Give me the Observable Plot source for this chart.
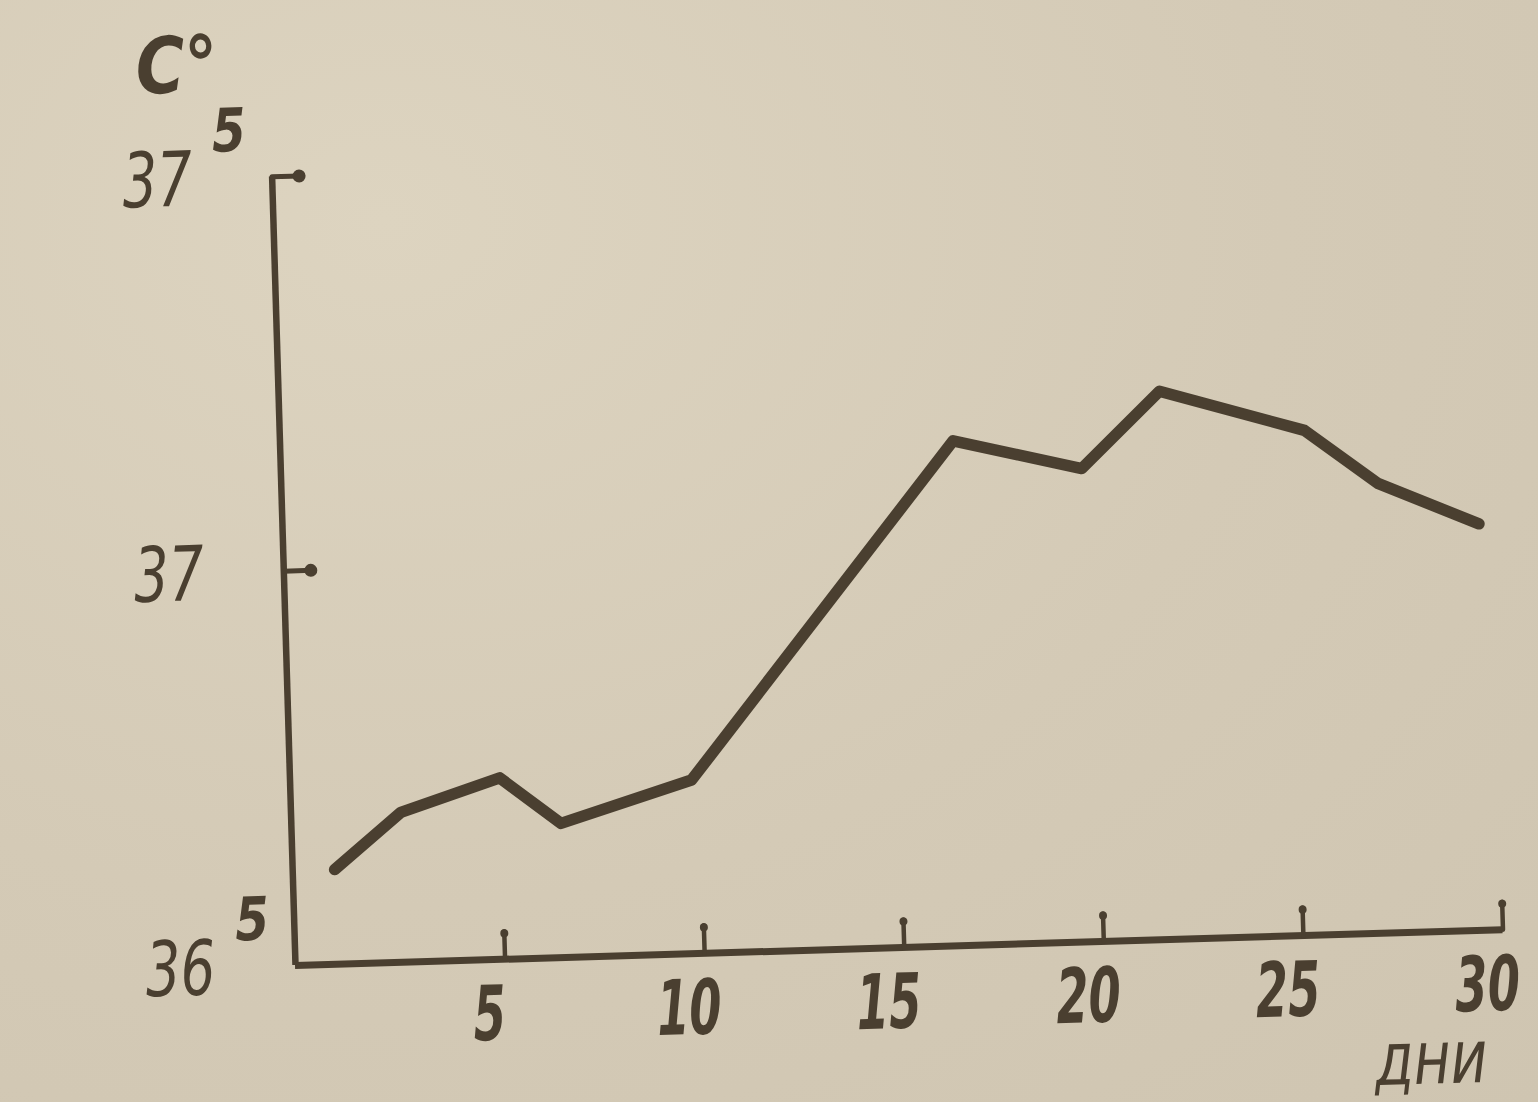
<!DOCTYPE html>
<html>
<head>
<meta charset="utf-8">
<script src="https://cdn.jsdelivr.net/npm/d3@7"></script>
<script src="https://cdn.jsdelivr.net/npm/@observablehq/plot@0.6"></script>
<style>
  html, body { margin: 0; padding: 0; width: 1538px; height: 1102px; overflow: hidden;
    background: radial-gradient(ellipse at 25% 20%, #ddd4c0 0%, #d4cab6 55%, #cfc5b1 100%); }
  #chart { position: absolute; left: 0; top: 0; }
  #chart svg { overflow: visible; transform: rotate(-1.7deg); transform-origin: 295px 965px; }
</style>
</head>
<body>
<div id="chart"></div>
<script>
// ---- data ----
const days  = [0.8, 2.5, 5, 6.5, 9.8, 16.6, 19.8, 21.8, 25.4, 27.2, 29.7];
const temps = [36.62, 36.69, 36.73, 36.67, 36.72, 37.14, 37.10, 37.195, 37.14, 37.07, 37.015];
const xDomain = [-0.25, 30];
const yDomain = [36.5, 37.5];
const xTicks = [5, 10, 15, 20, 25, 30];
const xTickLabels = ["5", "10", "15", "20", "25", "30"];
const yTicks = [36.5, 37, 37.5];
const yTickLabels = ["36", "37", "37"];
const yTickSups = ["5", "", "5"];
const yTickMarks = [37, 37.5];
const yTitle = "C°";
const xTitle = "дни";
const xTitleAt = 28.1;

const ink = "#4a3f30";
const font = "'Liberation Sans Narrow', 'DejaVu Sans Condensed', sans-serif";

const series = days.map((d, i) => ({day: d, t: temps[i]}));
const yLab = yTicks.map((v, i) => ({v, main: yTickLabels[i], sup: yTickSups[i]}));
const xLab = xTicks.map((v, i) => ({v, label: xTickLabels[i]}));

const tickShape = { draw(ctx, l) { ctx.moveTo(0, 0); ctx.lineTo(0, -l); } };

const chart = Plot.plot({
  width: 1538,
  height: 1102,
  marginLeft: 295,
  marginRight: 35,
  marginTop: 176,
  marginBottom: 137,
  style: {background: "transparent", color: ink},
  x: {domain: xDomain, axis: null},
  y: {domain: yDomain, axis: null},
  marks: [
    // axes
    Plot.ruleY([yDomain[0]], {x1: xDomain[0], x2: xDomain[1], stroke: ink, strokeWidth: 7}),
    Plot.ruleX([xDomain[0]], {y1: yDomain[0], y2: yDomain[1], stroke: ink, strokeWidth: 6.5}),
    // x ticks (upward)
    Plot.vector(xTicks, {x: d => d, y: yDomain[0], length: 28, rotate: 0, anchor: "start",
      shape: tickShape, stroke: ink, strokeWidth: 4.5}),
    Plot.dot(xTicks, {x: d => d, y: yDomain[0], dy: -26, r: 4, fill: ink}),
    // y ticks (rightward)
    Plot.vector(yTickMarks, {x: xDomain[0], y: d => d, length: 28, rotate: 90, anchor: "start",
      shape: tickShape, stroke: ink, strokeWidth: 5}),
    Plot.dot(yTickMarks, {x: xDomain[0], y: d => d, dx: 27, r: 6.5, fill: ink}),
    // data line
    Plot.line(series, {x: "day", y: "t", stroke: ink, strokeWidth: 11.5,
      strokeLinejoin: "round", strokeLinecap: "round"}),
    // x tick labels
    Plot.text(xLab, {x: "v", y: yDomain[0], text: "label", dx: -17, dy: 56,
      fontSize: 76, fontStyle: "italic", fontWeight: "bold", fontFamily: font, fill: ink}),
    // y tick labels
    Plot.text(yLab, {x: xDomain[0], y: "v", text: "main", dx: -115, dy: 2,
      fontSize: 76, fontStyle: "italic", fontFamily: font, fill: ink}),
    Plot.text(yLab, {x: xDomain[0], y: "v", text: "sup", dx: -42, dy: -46,
      fontSize: 60, fontStyle: "italic", fontWeight: "bold", fontFamily: font, fill: ink}),
    // axis titles
    Plot.text([yTitle], {x: xDomain[0], y: yDomain[1], text: d => d, dx: -92, dy: -112,
      fontSize: 78, fontStyle: "italic", fontWeight: "bold", fontFamily: font, fill: ink}),
    Plot.text([xTitle], {x: xTitleAt, y: yDomain[0], text: d => d, dy: 128,
      fontSize: 74, fontStyle: "italic", fontFamily: font, fill: ink})
  ]
});
document.getElementById("chart").appendChild(chart);

// condense the glyphs horizontally, like the narrow hand-lettered type of the original
const squeeze = [0.68, 0.8, 0.9, 0.95, 0.85];
d3.select(chart).selectAll("g[aria-label='text']").each(function(_, k) {
  const s = squeeze[k] ?? 1;
  d3.select(this).selectAll("text").each(function() {
    const w = this.getComputedTextLength();
    if (w > 0) {
      this.setAttribute("textLength", (w * s).toFixed(1));
      this.setAttribute("lengthAdjust", "spacingAndGlyphs");
    }
  });
});
</script>
</body>
</html>
